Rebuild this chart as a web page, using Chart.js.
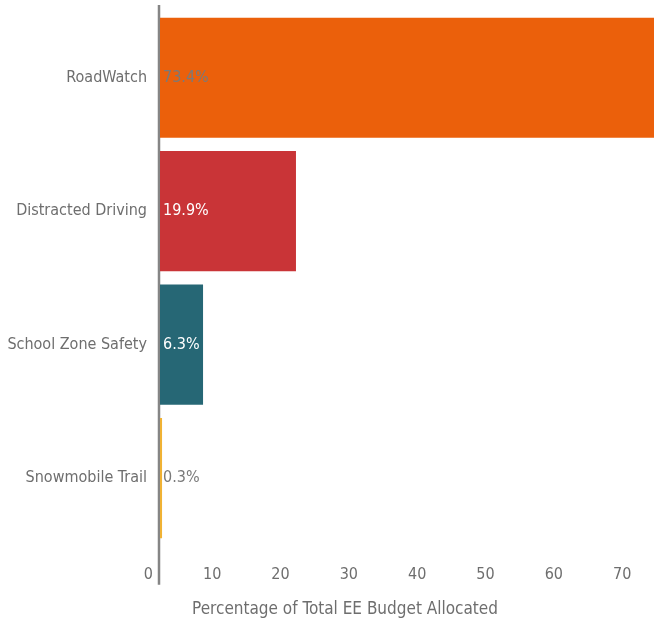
<!DOCTYPE html>
<html>
<head>
<meta charset="utf-8">
<script src="https://cdn.jsdelivr.net/npm/chart.js@4"></script>
<style>
  html, body { margin: 0; padding: 0; background: #fff; overflow: hidden; }
  #wrap { width: 654px; height: 622px; }
  canvas { display: block; }
</style>
</head>
<body>
<div id="wrap"><canvas id="chart"></canvas></div>
<script>
// data
const programs = ['RoadWatch', 'Distracted Driving', 'School Zone Safety', 'Snowmobile Trail'];
const shares = [73.4, 19.9, 6.3, 0.3];
const barColors = ['#eb600b', '#c93437', '#266775', '#f0b234'];
const labelColors = ['#7a7a7a', '#ffffff', '#ffffff', '#7a7a7a'];
const axisTitle = 'Percentage of Total EE Budget Allocated';

const FONT = "'Liberation Sans Narrow', 'DejaVu Sans Condensed', sans-serif";
const GREY = '#6e6e6e';

// left axis line, runs a bit past the plot area like the original
const axisLine = {
  id: 'axisLine',
  beforeDatasetsDraw(chart) {
    const { ctx, chartArea, scales } = chart;
    const x = scales.x.getPixelForValue(0) - 1;
    ctx.save();
    ctx.strokeStyle = '#858585';
    ctx.lineWidth = 2.5;
    ctx.beginPath();
    ctx.moveTo(x, chartArea.top - 6);
    ctx.lineTo(x, chartArea.bottom + 40);
    ctx.stroke();
    ctx.restore();
  }
};

// percentage text at the start of each bar + the x axis title
const valueLabels = {
  id: 'valueLabels',
  afterDatasetsDraw(chart) {
    const { ctx } = chart;
    const meta = chart.getDatasetMeta(0);
    ctx.save();
    ctx.textAlign = 'left';
    ctx.textBaseline = 'middle';
    meta.data.forEach((bar, i) => {
      ctx.font = (labelColors[i] === '#ffffff' ? '500 ' : '') + '16px ' + FONT;
      ctx.fillStyle = labelColors[i];
      ctx.fillText(shares[i].toFixed(1) + '%', bar.base + 3, bar.y);
    });
    // title is centred on the page, not on the plot area
    ctx.font = '17px ' + FONT;
    ctx.textAlign = 'center';
    ctx.fillStyle = GREY;
    ctx.fillText(axisTitle, 345, chart.height - 12);
    ctx.restore();
  }
};

new Chart(document.getElementById('chart'), {
  type: 'bar',
  data: {
    labels: programs,
    datasets: [{
      data: shares,
      backgroundColor: barColors,
      borderWidth: 0,
      barPercentage: 0.9,
      categoryPercentage: 1
    }]
  },
  options: {
    indexAxis: 'y',
    responsive: true,
    maintainAspectRatio: false,
    animation: false,
    layout: { padding: { top: 11, right: 0, bottom: 18, left: 0 } },
    plugins: {
      legend: { display: false },
      tooltip: { enabled: false }
    },
    scales: {
      x: {
        min: 0,
        max: 72.3,
        grid: { display: false, drawTicks: false },
        border: { display: false },
        ticks: {
          stepSize: 10,
          includeBounds: false,
          align: 'end',
          labelOffset: -7,
          padding: 20,
          color: GREY,
          font: { family: FONT, size: 16 }
        },
        afterFit(scale) { scale.paddingRight = 0; }
      },
      y: {
        grid: { display: false, drawTicks: false },
        border: { display: false },
        ticks: {
          padding: 13,
          color: GREY,
          font: { family: FONT, size: 16 }
        },
        afterFit(scale) {
          scale.width = 160;
          scale.paddingTop = 0;
          scale.paddingBottom = 0;
        }
      }
    }
  },
  plugins: [axisLine, valueLabels]
});
</script>
</body>
</html>
